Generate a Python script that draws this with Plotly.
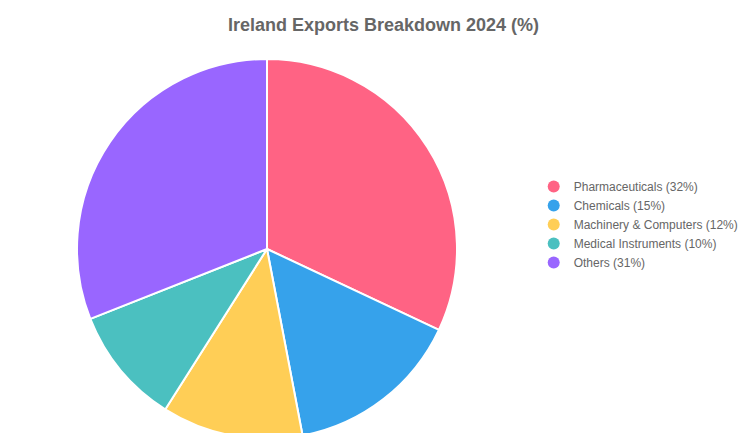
import plotly.graph_objects as go

# ── DATA ──────────────────────────────────────────────────────────────────────
CATEGORIES = ["Pharmaceuticals", "Chemicals", "Machinery & Computers",
              "Medical Instruments", "Others"]
SHARES = [32, 15, 12, 10, 31]
COLORS = ["#FF6384", "#36A2EB", "#FFCE56", "#4BC0C0", "#9966FF"]

W, H = 751, 433

fig = go.Figure()

fig.add_trace(go.Pie(
    labels=CATEGORIES,
    values=SHARES,
    sort=False,
    direction="clockwise",
    rotation=0,
    marker=dict(colors=COLORS, line=dict(color="white", width=2)),
    textinfo="none",
    showlegend=False,
    domain=dict(x=[69 / W, 449 / W], y=[2 / H, 382 / H]),
))

# circle legend entries via dummy scatter traces
for cat, val, col in zip(CATEGORIES, SHARES, COLORS):
    fig.add_trace(go.Scatter(
        x=[None], y=[None], mode="markers",
        name=f"{cat} ({val}%)",
        marker=dict(color=col, size=10, symbol="circle"),
    ))

fig.update_layout(
    width=W, height=H,
    margin=dict(l=0, r=0, t=0, b=0),
    paper_bgcolor="white", plot_bgcolor="white",
    title=dict(text="<b>Ireland Exports Breakdown 2024 (%)</b>",
               x=0.5, xanchor="center", y=1 - 17 / H, yanchor="middle",
               font=dict(family="Arial, Liberation Sans", size=18, color="#666")),
    xaxis=dict(visible=False), yaxis=dict(visible=False),
    legend=dict(x=0.70, y=0.50, xanchor="left", yanchor="middle",
                font=dict(family="Arial, Liberation Sans", size=12, color="#666"),
                itemsizing="constant", tracegroupgap=4),
)

fig.write_html("out.html")
